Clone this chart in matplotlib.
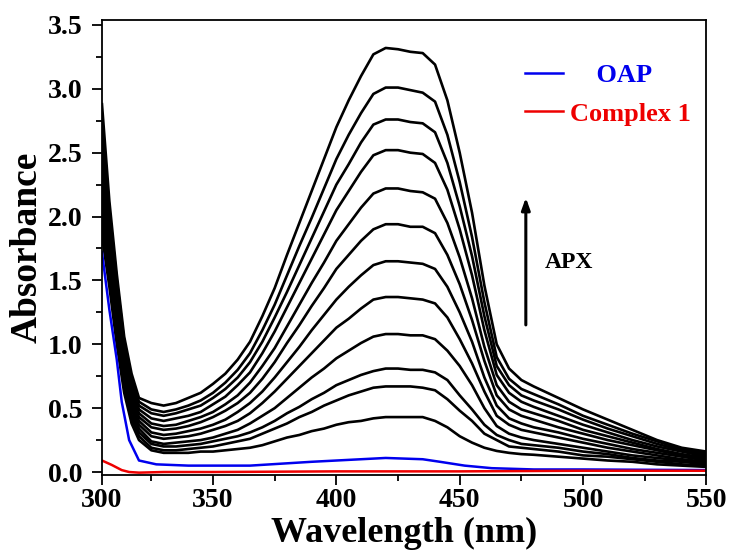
import numpy as np
import matplotlib
matplotlib.use('Agg')
import matplotlib.pyplot as plt
from matplotlib.ticker import FixedLocator, MultipleLocator, FormatStrFormatter

plt.rcParams['font.family'] = ['Liberation Serif', 'DejaVu Serif']
plt.rcParams['font.weight'] = 'bold'

# wavelength grid (nm) for the APX titration spectra
wl = [305, 308, 311, 314, 317, 320, 325, 330, 335, 340, 345, 350, 355, 360, 365,
      370, 375, 380, 385, 390, 395, 400, 405, 410, 415, 420, 425, 430, 435, 440,
      445, 450, 455, 460, 465, 470, 475, 480, 490, 500, 510, 520, 530, 540, 550]

# absorbance at each wavelength, 12 spectra (lowest -> highest)
A305 = [1.85, 1.94, 2.03, 2.12, 2.21, 2.30, 2.39, 2.48, 2.57, 2.66, 2.75, 2.88]
A308 = [1.45, 1.51, 1.57, 1.63, 1.69, 1.75, 1.81, 1.87, 1.93, 1.99, 2.05, 2.12]
A311 = [1.00, 1.05, 1.10, 1.15, 1.20, 1.25, 1.30, 1.35, 1.40, 1.45, 1.50, 1.55]
A314 = [0.62, 0.66, 0.70, 0.74, 0.78, 0.82, 0.86, 0.90, 0.94, 0.98, 1.02, 1.06]
A317 = [0.38, 0.42, 0.45, 0.49, 0.52, 0.56, 0.59, 0.63, 0.66, 0.70, 0.73, 0.77]
A320 = [0.25, 0.28, 0.31, 0.34, 0.37, 0.40, 0.43, 0.46, 0.49, 0.52, 0.55, 0.58]
A325 = [0.17, 0.19, 0.22, 0.24, 0.28, 0.31, 0.35, 0.38, 0.42, 0.46, 0.49, 0.54]
A330 = [0.15, 0.17, 0.20, 0.22, 0.26, 0.29, 0.33, 0.36, 0.40, 0.44, 0.47, 0.52]
A335 = [0.15, 0.17, 0.20, 0.23, 0.27, 0.30, 0.34, 0.37, 0.42, 0.46, 0.49, 0.54]
A340 = [0.15, 0.18, 0.21, 0.24, 0.28, 0.32, 0.36, 0.40, 0.44, 0.49, 0.52, 0.58]
A345 = [0.16, 0.19, 0.22, 0.25, 0.30, 0.34, 0.39, 0.43, 0.47, 0.52, 0.56, 0.62]
A350 = [0.16, 0.20, 0.24, 0.27, 0.33, 0.37, 0.43, 0.47, 0.53, 0.58, 0.62, 0.69]
A355 = [0.17, 0.22, 0.26, 0.30, 0.36, 0.41, 0.48, 0.53, 0.59, 0.65, 0.70, 0.77]
A360 = [0.18, 0.24, 0.28, 0.33, 0.40, 0.47, 0.54, 0.60, 0.68, 0.74, 0.80, 0.88]
A365 = [0.19, 0.26, 0.31, 0.38, 0.46, 0.54, 0.62, 0.70, 0.78, 0.86, 0.93, 1.02]
A370 = [0.21, 0.30, 0.35, 0.44, 0.54, 0.63, 0.73, 0.83, 0.93, 1.02, 1.11, 1.22]
A375 = [0.24, 0.34, 0.40, 0.50, 0.63, 0.74, 0.86, 0.97, 1.10, 1.21, 1.31, 1.44]
A380 = [0.27, 0.38, 0.46, 0.58, 0.73, 0.86, 1.01, 1.14, 1.29, 1.41, 1.54, 1.70]
A385 = [0.29, 0.43, 0.51, 0.66, 0.83, 0.98, 1.15, 1.31, 1.48, 1.62, 1.77, 1.95]
A390 = [0.32, 0.47, 0.57, 0.74, 0.93, 1.11, 1.30, 1.48, 1.67, 1.83, 1.99, 2.20]
A395 = [0.34, 0.52, 0.62, 0.81, 1.03, 1.23, 1.44, 1.64, 1.86, 2.04, 2.22, 2.45]
A400 = [0.37, 0.56, 0.68, 0.89, 1.13, 1.35, 1.59, 1.81, 2.05, 2.25, 2.45, 2.70]
A405 = [0.39, 0.60, 0.72, 0.95, 1.20, 1.45, 1.70, 1.94, 2.20, 2.41, 2.64, 2.91]
A410 = [0.40, 0.63, 0.76, 1.01, 1.28, 1.54, 1.81, 2.07, 2.35, 2.58, 2.81, 3.10]
A415 = [0.42, 0.66, 0.79, 1.06, 1.35, 1.62, 1.90, 2.18, 2.48, 2.72, 2.96, 3.27]
A420 = [0.43, 0.67, 0.81, 1.08, 1.37, 1.65, 1.94, 2.22, 2.52, 2.76, 3.01, 3.32]
A425 = [0.43, 0.67, 0.81, 1.08, 1.37, 1.65, 1.94, 2.22, 2.52, 2.76, 3.01, 3.31]
A430 = [0.43, 0.67, 0.80, 1.07, 1.36, 1.64, 1.92, 2.20, 2.50, 2.74, 2.99, 3.29]
A435 = [0.43, 0.66, 0.80, 1.07, 1.35, 1.63, 1.92, 2.19, 2.49, 2.73, 2.97, 3.28]
A440 = [0.40, 0.64, 0.78, 1.04, 1.32, 1.59, 1.87, 2.14, 2.42, 2.66, 2.90, 3.19]
A445 = [0.35, 0.57, 0.72, 0.95, 1.21, 1.45, 1.70, 1.95, 2.21, 2.42, 2.64, 2.91]
A450 = [0.28, 0.48, 0.60, 0.83, 1.04, 1.25, 1.47, 1.68, 1.90, 2.08, 2.27, 2.50]
A455 = [0.23, 0.40, 0.49, 0.68, 0.85, 1.02, 1.19, 1.36, 1.54, 1.69, 1.84, 2.03]
A460 = [0.19, 0.30, 0.37, 0.50, 0.63, 0.74, 0.87, 0.98, 1.11, 1.22, 1.33, 1.46]
A465 = [0.165, 0.25, 0.29, 0.36, 0.44, 0.52, 0.60, 0.68, 0.76, 0.83, 0.90, 1.00]
A470 = [0.15, 0.20, 0.25, 0.30, 0.37, 0.42, 0.49, 0.55, 0.62, 0.68, 0.73, 0.81]
A475 = [0.14, 0.19, 0.22, 0.27, 0.33, 0.38, 0.44, 0.49, 0.55, 0.60, 0.65, 0.72]
A480 = [0.135, 0.18, 0.21, 0.25, 0.31, 0.35, 0.41, 0.46, 0.51, 0.56, 0.61, 0.67]
A490 = [0.12, 0.16, 0.19, 0.22, 0.27, 0.31, 0.35, 0.40, 0.44, 0.49, 0.53, 0.58]
A500 = [0.105, 0.13, 0.16, 0.19, 0.23, 0.26, 0.30, 0.33, 0.37, 0.41, 0.44, 0.49]
A510 = [0.09, 0.12, 0.14, 0.16, 0.19, 0.22, 0.25, 0.28, 0.31, 0.34, 0.37, 0.41]
A520 = [0.08, 0.10, 0.11, 0.13, 0.16, 0.18, 0.21, 0.23, 0.25, 0.28, 0.30, 0.33]
A530 = [0.06, 0.08, 0.09, 0.11, 0.13, 0.15, 0.17, 0.18, 0.20, 0.22, 0.24, 0.25]
A540 = [0.05, 0.06, 0.08, 0.09, 0.10, 0.12, 0.13, 0.14, 0.16, 0.17, 0.18, 0.19]
A550 = [0.04, 0.05, 0.06, 0.07, 0.08, 0.09, 0.10, 0.11, 0.12, 0.13, 0.145, 0.16]

apx = np.array([A305, A308, A311, A314, A317, A320, A325, A330, A335, A340, A345,
                A350, A355, A360, A365, A370, A375, A380, A385, A390, A395, A400,
                A405, A410, A415, A420, A425, A430, A435, A440, A445, A450, A455,
                A460, A465, A470, A475, A480, A490, A500, A510, A520, A530, A540,
                A550])

# OAP alone
wl_oap = [305, 308, 311, 313, 316, 320, 327, 340, 365, 390, 410, 420, 435, 442,
          452, 463, 480, 500, 550]
oap = [1.72, 1.27, 0.88, 0.55, 0.25, 0.09, 0.06, 0.05, 0.05, 0.08, 0.10, 0.11,
       0.10, 0.08, 0.05, 0.03, 0.02, 0.02, 0.015]

# complex 1 alone
wl_cx = [305, 309, 313, 316, 320, 330, 350, 400, 450, 500, 550]
cx = [0.09, 0.055, 0.015, 0.0, -0.005, 0.0, 0.0, 0.005, 0.005, 0.01, 0.01]

fig = plt.figure(figsize=(7.3, 5.57), dpi=100)
ax = fig.add_axes([0.1397, 0.1472, 0.828, 0.8169])

for k in range(apx.shape[1]):
    ax.plot(wl, apx[:, k], color='black', lw=1.9, solid_joinstyle='round')
ax.plot(wl_oap, oap, color='#0000ee', lw=1.8, label='    OAP')
ax.plot(wl_cx, cx, color='#ee0000', lw=1.8, label='Complex 1')

ax.set_xlim(305, 550)
ax.set_ylim(-0.0235, 3.539)

ax.xaxis.set_major_locator(FixedLocator([305, 350, 400, 450, 500, 550]))
ax.set_xticklabels(['300', '350', '400', '450', '500', '550'])
ax.xaxis.set_minor_locator(FixedLocator([325, 375, 425, 475, 525]))
ax.yaxis.set_major_locator(MultipleLocator(0.5))
ax.yaxis.set_minor_locator(MultipleLocator(0.25))
ax.yaxis.set_major_formatter(FormatStrFormatter('%.1f'))

ax.tick_params(which='major', direction='out', length=7, width=1.3, labelsize=20)
ax.tick_params(which='minor', direction='out', length=4.5, width=1.3)
ax.tick_params(axis='y', which='major', pad=7)
ax.tick_params(axis='x', which='major', pad=2)
for s in ax.spines.values():
    s.set_linewidth(1.3)

ax.set_xlabel('Wavelength (nm)', fontsize=26, fontweight='bold', labelpad=3)
ax.set_ylabel('Absorbance', fontsize=27, fontweight='bold', labelpad=2)

# APX arrow
ax.annotate('', xy=(476.8, 2.17), xytext=(476.8, 1.13),
            arrowprops=dict(arrowstyle='-|>,head_length=0.7,head_width=0.25',
                            color='black', lw=2.2))
ax.text(484.5, 1.64, 'APX', fontsize=17, fontweight='bold', va='center', ha='left')

leg = ax.legend(loc='upper left', bbox_to_anchor=(0.70, 0.904), frameon=False,
                fontsize=19, handlelength=1.44, handletextpad=0.27,
                labelspacing=0.565, borderpad=0, borderaxespad=0,
                labelcolor='linecolor')

fig.savefig('out.png', dpi=100)
